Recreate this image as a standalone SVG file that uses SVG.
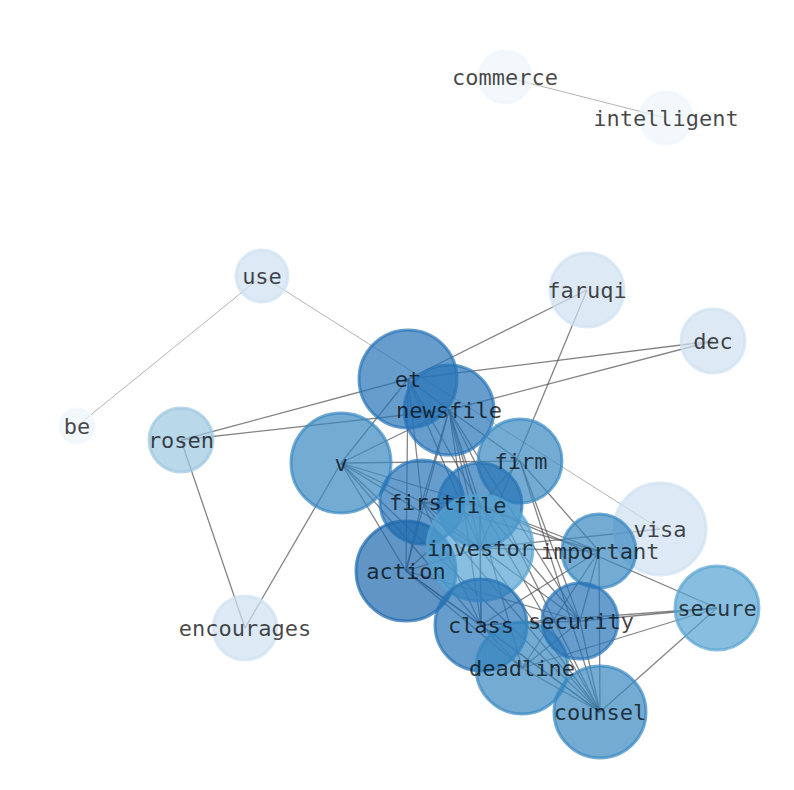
<svg xmlns="http://www.w3.org/2000/svg" width="794" height="790" viewBox="0 0 794 790">
<style>
.e{stroke:#555;stroke-opacity:0.72;stroke-width:1.3;fill:none}
.t{stroke:#888;stroke-opacity:0.8;stroke-width:0.8;fill:none}
circle{stroke-width:3;fill-opacity:0.7;stroke-opacity:0.7}
text{font-family:"DejaVu Sans Mono",monospace;font-size:22px;fill:#000;fill-opacity:0.72;text-anchor:middle;dominant-baseline:central}
.c0{fill:#eef5fc;stroke:#eef5fc}
.c1{fill:#cfe1f2;stroke:#cfe1f2}
.c2{fill:#9bc7e1;stroke:#9bc7e1}
.c3{fill:#56a2d2;stroke:#56a2d2}
.c4{fill:#3787c0;stroke:#3787c0}
.c5{fill:#2674b6;stroke:#2674b6}
.c6{fill:#1d68ad;stroke:#1d68ad}
</style>
<rect width="794" height="790" fill="#fff"/>
<g id="edges">
<line class="t" x1="505" y1="77" x2="666" y2="118"/>
<line class="t" x1="262" y1="276" x2="77" y2="426"/>
<line class="t" x1="262" y1="276" x2="660" y2="529"/>
<line class="e" x1="587" y1="290" x2="408" y2="379"/>
<line class="e" x1="587" y1="290" x2="480" y2="548"/>
<line class="e" x1="713" y1="341" x2="408" y2="379"/>
<line class="e" x1="713" y1="341" x2="449" y2="410"/>
<line class="e" x1="181" y1="440" x2="408" y2="379"/>
<line class="e" x1="181" y1="440" x2="449" y2="410"/>
<line class="e" x1="181" y1="440" x2="245" y2="628"/>
<line class="e" x1="245" y1="628" x2="341" y2="463"/>
<line class="e" x1="341" y1="463" x2="408" y2="379"/>
<line class="e" x1="408" y1="379" x2="449" y2="410"/>
<line class="e" x1="408" y1="379" x2="422" y2="502"/>
<line class="e" x1="408" y1="379" x2="480" y2="505"/>
<line class="e" x1="408" y1="379" x2="480" y2="548"/>
<line class="e" x1="408" y1="379" x2="406" y2="571"/>
<line class="e" x1="449" y1="410" x2="341" y2="463"/>
<line class="e" x1="449" y1="410" x2="520" y2="461"/>
<line class="e" x1="449" y1="410" x2="422" y2="502"/>
<line class="e" x1="449" y1="410" x2="480" y2="505"/>
<line class="e" x1="449" y1="410" x2="480" y2="548"/>
<line class="e" x1="449" y1="410" x2="481" y2="625"/>
<line class="e" x1="449" y1="410" x2="522" y2="668"/>
<line class="e" x1="449" y1="410" x2="580" y2="621"/>
<line class="e" x1="449" y1="410" x2="600" y2="712"/>
<line class="e" x1="449" y1="410" x2="406" y2="571"/>
<line class="e" x1="341" y1="463" x2="520" y2="461"/>
<line class="e" x1="341" y1="463" x2="422" y2="502"/>
<line class="e" x1="341" y1="463" x2="480" y2="505"/>
<line class="e" x1="341" y1="463" x2="480" y2="548"/>
<line class="e" x1="341" y1="463" x2="406" y2="571"/>
<line class="e" x1="341" y1="463" x2="481" y2="625"/>
<line class="e" x1="341" y1="463" x2="600" y2="712"/>
<line class="e" x1="422" y1="502" x2="480" y2="505"/>
<line class="e" x1="422" y1="502" x2="480" y2="548"/>
<line class="e" x1="422" y1="502" x2="406" y2="571"/>
<line class="e" x1="422" y1="502" x2="481" y2="625"/>
<line class="e" x1="422" y1="502" x2="600" y2="712"/>
<line class="e" x1="422" y1="502" x2="599" y2="551"/>
<line class="e" x1="480" y1="505" x2="480" y2="548"/>
<line class="e" x1="480" y1="505" x2="406" y2="571"/>
<line class="e" x1="480" y1="505" x2="481" y2="625"/>
<line class="e" x1="480" y1="505" x2="580" y2="621"/>
<line class="e" x1="480" y1="505" x2="600" y2="712"/>
<line class="e" x1="480" y1="505" x2="599" y2="551"/>
<line class="e" x1="480" y1="505" x2="717" y2="608"/>
<line class="e" x1="480" y1="505" x2="520" y2="461"/>
<line class="e" x1="480" y1="548" x2="406" y2="571"/>
<line class="e" x1="480" y1="548" x2="481" y2="625"/>
<line class="e" x1="480" y1="548" x2="580" y2="621"/>
<line class="e" x1="480" y1="548" x2="600" y2="712"/>
<line class="e" x1="480" y1="548" x2="599" y2="551"/>
<line class="e" x1="480" y1="548" x2="660" y2="529"/>
<line class="e" x1="520" y1="461" x2="580" y2="621"/>
<line class="e" x1="520" y1="461" x2="600" y2="712"/>
<line class="e" x1="520" y1="461" x2="599" y2="551"/>
<line class="e" x1="406" y1="571" x2="481" y2="625"/>
<line class="e" x1="406" y1="571" x2="522" y2="668"/>
<line class="e" x1="406" y1="571" x2="600" y2="712"/>
<line class="e" x1="406" y1="571" x2="580" y2="621"/>
<line class="e" x1="481" y1="625" x2="522" y2="668"/>
<line class="e" x1="481" y1="625" x2="580" y2="621"/>
<line class="e" x1="481" y1="625" x2="600" y2="712"/>
<line class="e" x1="481" y1="625" x2="599" y2="551"/>
<line class="e" x1="481" y1="625" x2="717" y2="608"/>
<line class="e" x1="580" y1="621" x2="522" y2="668"/>
<line class="e" x1="580" y1="621" x2="600" y2="712"/>
<line class="e" x1="580" y1="621" x2="599" y2="551"/>
<line class="e" x1="580" y1="621" x2="717" y2="608"/>
<line class="e" x1="522" y1="668" x2="600" y2="712"/>
<line class="e" x1="522" y1="668" x2="599" y2="551"/>
<line class="e" x1="522" y1="668" x2="717" y2="608"/>
<line class="e" x1="599" y1="551" x2="600" y2="712"/>
<line class="e" x1="600" y1="712" x2="717" y2="608"/>
</g>
<g id="nodes">
<g id="node-commerce"><circle class="c0" cx="505" cy="77" r="26"/></g>
<g id="node-intelligent"><circle class="c0" cx="666" cy="118" r="26"/></g>
<g id="node-use"><circle class="c1" cx="262" cy="276" r="26"/></g>
<g id="node-faruqi"><circle class="c1" cx="587" cy="290" r="37"/></g>
<g id="node-dec"><circle class="c1" cx="713" cy="341" r="32"/></g>
<g id="node-be"><circle class="c0" cx="77" cy="426" r="17"/></g>
<g id="node-rosen"><circle class="c2" cx="181" cy="440" r="32"/></g>
<g id="node-visa"><circle class="c1" cx="660" cy="529" r="46"/></g>
<g id="node-encourages"><circle class="c1" cx="245" cy="628" r="32"/></g>
<g id="node-secure"><circle class="c3" cx="717" cy="608" r="42"/></g>
<g id="node-et"><circle class="c5" cx="408" cy="379" r="49"/></g>
<g id="node-newsfile"><circle class="c5" cx="449" cy="410" r="45"/></g>
<g id="node-v"><circle class="c4" cx="341" cy="463" r="50"/></g>
<g id="node-firm"><circle class="c4" cx="520" cy="461" r="42"/></g>
<g id="node-first"><circle class="c5" cx="422" cy="502" r="42"/></g>
<g id="node-file"><circle class="c5" cx="480" cy="505" r="42"/></g>
<g id="node-action"><circle class="c6" cx="406" cy="571" r="50"/></g>
<g id="node-investor"><circle class="c3" cx="480" cy="548" r="53"/></g>
<g id="node-important"><circle class="c4" cx="599" cy="551" r="37"/></g>
<g id="node-class"><circle class="c5" cx="481" cy="625" r="46"/></g>
<g id="node-deadline"><circle class="c4" cx="522" cy="668" r="46"/></g>
<g id="node-security"><circle class="c5" cx="580" cy="621" r="38"/></g>
<g id="node-counsel"><circle class="c4" cx="600" cy="712" r="46"/></g>
</g>
<g id="labels">
<text id="label-commerce" x="505" y="77">commerce</text>
<text id="label-intelligent" x="666" y="118">intelligent</text>
<text id="label-use" x="262" y="276">use</text>
<text id="label-faruqi" x="587" y="290">faruqi</text>
<text id="label-dec" x="713" y="341">dec</text>
<text id="label-be" x="77" y="426">be</text>
<text id="label-rosen" x="181" y="440">rosen</text>
<text id="label-visa" x="660" y="529">visa</text>
<text id="label-encourages" x="245" y="628">encourages</text>
<text id="label-secure" x="717" y="608">secure</text>
<text id="label-et" x="408" y="379">et</text>
<text id="label-newsfile" x="449" y="410">newsfile</text>
<text id="label-v" x="341" y="463">v</text>
<text id="label-firm" x="521" y="461">firm</text>
<text id="label-first" x="422" y="502">first</text>
<text id="label-file" x="480" y="505">file</text>
<text id="label-action" x="406" y="571">action</text>
<text id="label-investor" x="480" y="548">investor</text>
<text id="label-important" x="600" y="551">important</text>
<text id="label-class" x="481" y="625">class</text>
<text id="label-deadline" x="522" y="668">deadline</text>
<text id="label-security" x="581" y="621">security</text>
<text id="label-counsel" x="600" y="712">counsel</text>
</g>
</svg>
